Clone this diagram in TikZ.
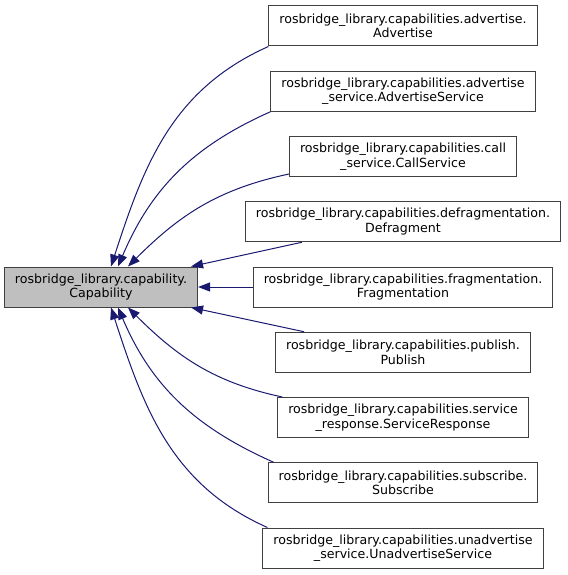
\documentclass[tikz,border=0pt]{standalone}
\usepackage{fontspec}
\setmainfont{DejaVu Sans}
\usetikzlibrary{arrows.meta}
\definecolor{edgeblue}{RGB}{25,25,112}
\definecolor{basegray}{RGB}{191,191,191}
\begin{document}
\begin{tikzpicture}[
        x=1pt, y=1pt,
        cls/.style={draw=black!75, fill=white, line width=1pt, align=center,
            minimum height=40pt, inner xsep=10.5pt, inner ysep=0pt,
            font=\fontsize{12.6}{14.5}\selectfont},
        inh/.style={draw=edgeblue, line width=1pt, {Triangle[length=12pt,width=9pt]}-},
        grow'=right,
        level distance=302pt, % classi derivate tutte centrate a destra
        level 1/.style={sibling distance=65.25pt},
        edge from parent/.style={draw=none} % archi disegnati a mano sotto
    ]
    \useasboundingbox (0,0) rectangle (567,-575);
    \node[cls, fill=basegray] (cap) at (101,-287) {rosbridge\_library.capability.\\Capability}
        child {node[cls] (adv) {rosbridge\_library.capabilities.advertise.\\Advertise}}
        child {node[cls] (advsrv) {rosbridge\_library.capabilities.advertise\\\_service.AdvertiseService}}
        child {node[cls] (call) {rosbridge\_library.capabilities.call\\\_service.CallService}}
        child {node[cls] (defrag) {rosbridge\_library.capabilities.defragmentation.\\Defragment}}
        child {node[cls] (frag) {rosbridge\_library.capabilities.fragmentation.\\Fragmentation}}
        child {node[cls] (pub) {rosbridge\_library.capabilities.publish.\\Publish}}
        child {node[cls] (srvresp) {rosbridge\_library.capabilities.service\\\_response.ServiceResponse}}
        child {node[cls] (sub) {rosbridge\_library.capabilities.subscribe.\\Subscribe}}
        child {node[cls] (unadv) {rosbridge\_library.capabilities.unadvertise\\\_service.UnadvertiseService}};
    % ereditarieta: frecce verso la classe base
    \draw[inh] ([xshift=10pt]cap.north) to[out=72, in=204] (adv.south west);
    \draw[inh] ([xshift=17pt]cap.north) to[out=67, in=204] (advsrv.south west);
    \draw[inh] ([xshift=27pt]cap.north) to[out=45, in=192] ([yshift=3pt]call.south west);
    \draw[inh] ([xshift=-7pt]cap.north east) -- ([xshift=57pt]defrag.south west);
    \draw[inh] (cap.east) -- (frag.west);
    \draw[inh] ([xshift=-7pt]cap.south east) -- ([xshift=29pt]pub.north west);
    \draw[inh] ([xshift=27pt]cap.south) to[out=-45, in=168] ([xshift=5pt]srvresp.north west);
    \draw[inh] ([xshift=17pt]cap.south) to[out=-67, in=156] ([xshift=6pt]sub.north west);
    \draw[inh] ([xshift=10pt]cap.south) to[out=-72, in=156] ([xshift=5pt]unadv.north west);
\end{tikzpicture}
\end{document}
